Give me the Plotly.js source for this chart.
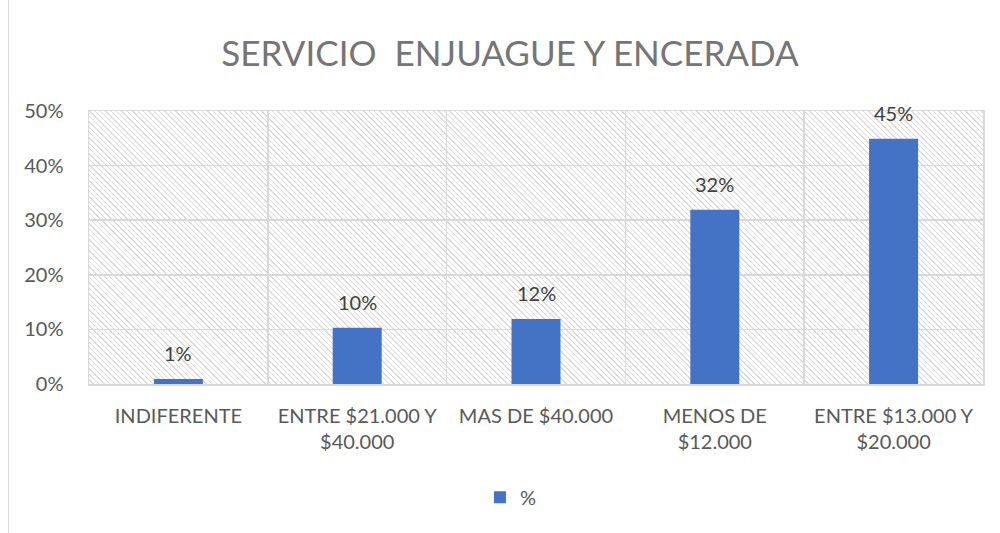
<!DOCTYPE html>
<html>
<head>
<meta charset="utf-8">
<script src="https://cdn.plot.ly/plotly-3.0.1.min.js"></script>
<style>
  html, body { margin: 0; padding: 0; background: #ffffff; }
  #wrap { position: relative; width: 1000px; height: 533px; overflow: hidden; }
  #frame { position: absolute; left: 8px; top: -2px; width: 1100px; height: 600px; border-left: 1.5px solid #d9d9d9; }
  #hatch {
    position: absolute; left: 89px; top: 111px; width: 894px; height: 273px;
    background: repeating-linear-gradient(45deg, #ffffff 0px, #ffffff 2.8px, #dcdcdc 2.8px, #dcdcdc 3.8px);
  }
  #chart { position: absolute; left: 0; top: 0; width: 1000px; height: 533px; }
</style>
</head>
<body>
<div id="wrap">
  <div id="frame"></div>
  <div id="hatch"></div>
  <div id="chart"></div>
</div>
<script>
const categories = ["INDIFERENTE", "ENTRE $21.000 Y<br>$40.000", "MAS DE $40.000", "MENOS DE<br>$12.000", "ENTRE $13.000 Y<br>$20.000"];
const values = [0.009, 0.103, 0.119, 0.319, 0.449];
const labels = ["1%", "10%", "12%", "32%", "45%"];
const seriesName = "%";
const yTickVals = [0, 0.1, 0.2, 0.3, 0.4, 0.5];
const yTickText = ["0%", "10%", "20%", "30%", "40%", "50%"];

const font = "Lato, 'Open Sans', sans-serif";

const trace = {
  type: "bar",
  x: categories,
  y: values,
  name: seriesName,
  width: 0.274,
  marker: { color: "#4472C4" },
  showlegend: true
};

const annotations = categories.map((c, i) => ({
  x: i, y: values[i], xref: "x", yref: "y",
  text: labels[i], showarrow: false,
  yanchor: "bottom", yshift: 12,
  font: { family: font, size: 20, color: "#404040" }
}));

const layout = {
  width: 1000, height: 533,
  margin: { l: 89, r: 17, t: 111, b: 149, autoexpand: false },
  paper_bgcolor: "rgba(0,0,0,0)",
  plot_bgcolor: "rgba(0,0,0,0)",
  title: {
    text: "SERVICIO  ENJUAGUE Y ENCERADA",
    font: { family: font, size: 35, color: "#757575" },
    x: 0.51, xref: "container", xanchor: "center",
    y: 0.9, yref: "container", yanchor: "middle"
  },
  annotations: annotations,
  xaxis: {
    type: "category",
    categoryorder: "array", categoryarray: categories,
    range: [-0.5, 4.5], autorange: false,
    tickson: "boundaries",
    tickangle: 0,
    showgrid: true, gridcolor: "#d9d9d9", gridwidth: 1.5,
    showline: true, linecolor: "#d9d9d9", linewidth: 1.5, mirror: true,
    ticks: "", ticklabelstandoff: 13,
    tickfont: { family: font, size: 20, color: "#595959" },
    fixedrange: true
  },
  yaxis: {
    range: [0, 0.5],
    tickvals: yTickVals, ticktext: yTickText,
    showgrid: true, gridcolor: "#d9d9d9", gridwidth: 1.5,
    showline: true, linecolor: "#d9d9d9", linewidth: 1.5, mirror: true,
    zeroline: false,
    ticks: "", ticklabelstandoff: 20,
    tickfont: { family: font, size: 20, color: "#595959" },
    fixedrange: true
  },
  showlegend: true,
  legend: {
    orientation: "h",
    x: 0.472, xanchor: "center",
    y: -0.415, yanchor: "middle",
    font: { family: font, size: 20, color: "#595959" },
    bgcolor: "rgba(0,0,0,0)"
  }
};

Plotly.newPlot("chart", [trace], layout, { displayModeBar: false, staticPlot: true });
</script>
</body>
</html>
